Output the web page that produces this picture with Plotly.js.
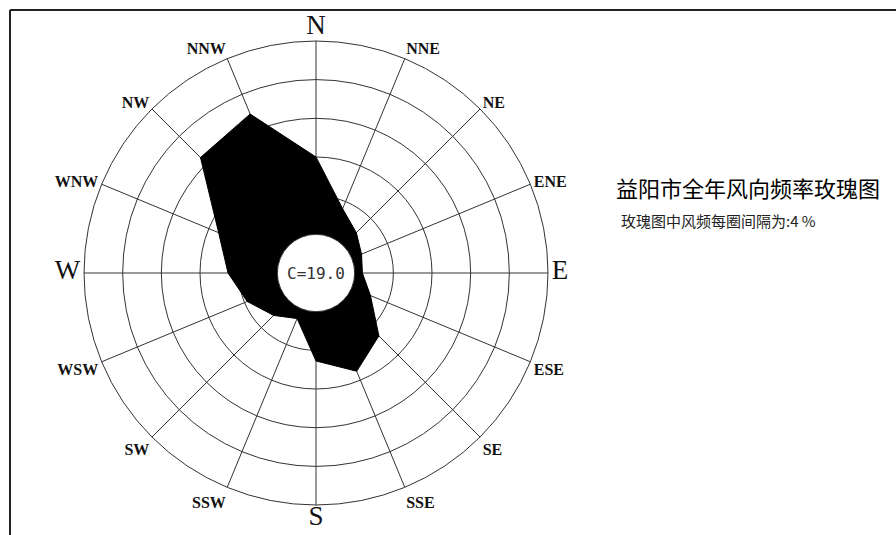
<!DOCTYPE html>
<html><head><meta charset="utf-8">
<script src="https://cdn.plot.ly/plotly-3.0.1.min.js"></script>
<style>html,body{margin:0;padding:0;background:#fff}#chart{width:896px;height:535px}</style>
</head><body><div id="chart"></div>
<script>
// ---- data ----
const directions = ['N','NNE','NE','ENE','E','ESE','SE','SSE','S','SSW','SW','WSW','W','WNW','NW','NNW'];
const frequency  = [8.0, 3.2, 1.9, 1.1, 0.8, 2.1, 5.2, 7.0, 5.1, 1.1, 2.2, 3.7, 5.1, 6.9, 12.9, 13.8];
const calmFrequency = 19.0;
const ringValues = [4, 8, 12, 16];
const radialMax = 20;
const chartTitle = '益阳市全年风向频率玫瑰图';
const subTitle = '玫瑰图中风频每圈间隔为:4 %';
const cardinalDirections = ['N', 'E', 'S', 'W'];

// ---- layout geometry ----
const W = 896, H = 535;
const cx = 316, cy = 273, R = 232;
const holeFrac = 1 / 6;
const dom = {
  x: [(cx - R) / W, (cx + R) / W],
  y: [(H - cy - R) / H, (H - cy + R) / H]
};

const tickText = directions.map(d =>
  cardinalDirections.includes(d)
    ? '<span style="font-size:27px;font-weight:normal">' + d + '</span>'
    : d);

const trace = {
  type: 'scatterpolar',
  r: frequency.concat([frequency[0]]),
  theta: directions.concat([directions[0]]),
  mode: 'lines',
  fill: 'toself',
  fillcolor: '#000',
  line: {color: '#000', width: 1},
  hoverinfo: 'skip',
  showlegend: false
};

const layout = {
  width: W, height: H,
  margin: {l: 0, r: 0, t: 0, b: 0},
  paper_bgcolor: '#fff',
  showlegend: false,
  polar: {
    domain: dom,
    hole: holeFrac,
    bgcolor: '#fff',
    angularaxis: {
      type: 'category',
      categoryarray: directions,
      direction: 'clockwise',
      rotation: 90,
      showline: true, linecolor: '#333', linewidth: 1,
      showgrid: true, gridcolor: '#333', gridwidth: 1,
      ticks: '',
      tickmode: 'array', tickvals: directions, ticktext: tickText,
      tickfont: {family: 'Liberation Serif, Times New Roman, serif', size: 16, color: '#111', weight: 'bold'}
    },
    radialaxis: {
      range: [0, radialMax],
      tickmode: 'array', tickvals: ringValues,
      showticklabels: false, ticks: '',
      showline: false,
      showgrid: true, gridcolor: '#333', gridwidth: 1
    }
  },
  shapes: [
    {type: 'line', xref: 'paper', yref: 'paper', x0: 10 / W, x1: 1, y0: (H - 10) / H, y1: (H - 10) / H,
     line: {color: '#222', width: 2}},
    {type: 'line', xref: 'paper', yref: 'paper', x0: 10 / W, x1: 10 / W, y0: 0, y1: (H - 10) / H,
     line: {color: '#222', width: 2}}
  ],
  annotations: [
    {xref: 'paper', yref: 'paper', x: (dom.x[0] + dom.x[1]) / 2, y: (dom.y[0] + dom.y[1]) / 2,
     text: 'C=' + calmFrequency.toFixed(1), showarrow: false, xanchor: 'center', yanchor: 'middle',
     font: {family: 'DejaVu Sans Mono, monospace', size: 16, color: '#333'}},
    {xref: 'paper', yref: 'paper', x: 614 / W, y: (H - 187) / H, xanchor: 'left', yanchor: 'middle',
     text: chartTitle, showarrow: false,
     font: {family: 'Noto Sans CJK SC', size: 22, color: '#000'}},
    {xref: 'paper', yref: 'paper', x: 619 / W, y: (H - 221) / H, xanchor: 'left', yanchor: 'middle',
     text: subTitle, showarrow: false,
     font: {family: 'Noto Sans CJK SC', size: 15, color: '#222'}}
  ]
};

Plotly.newPlot('chart', [trace], layout, {displayModeBar: false, staticPlot: true});
</script>
</body></html>
